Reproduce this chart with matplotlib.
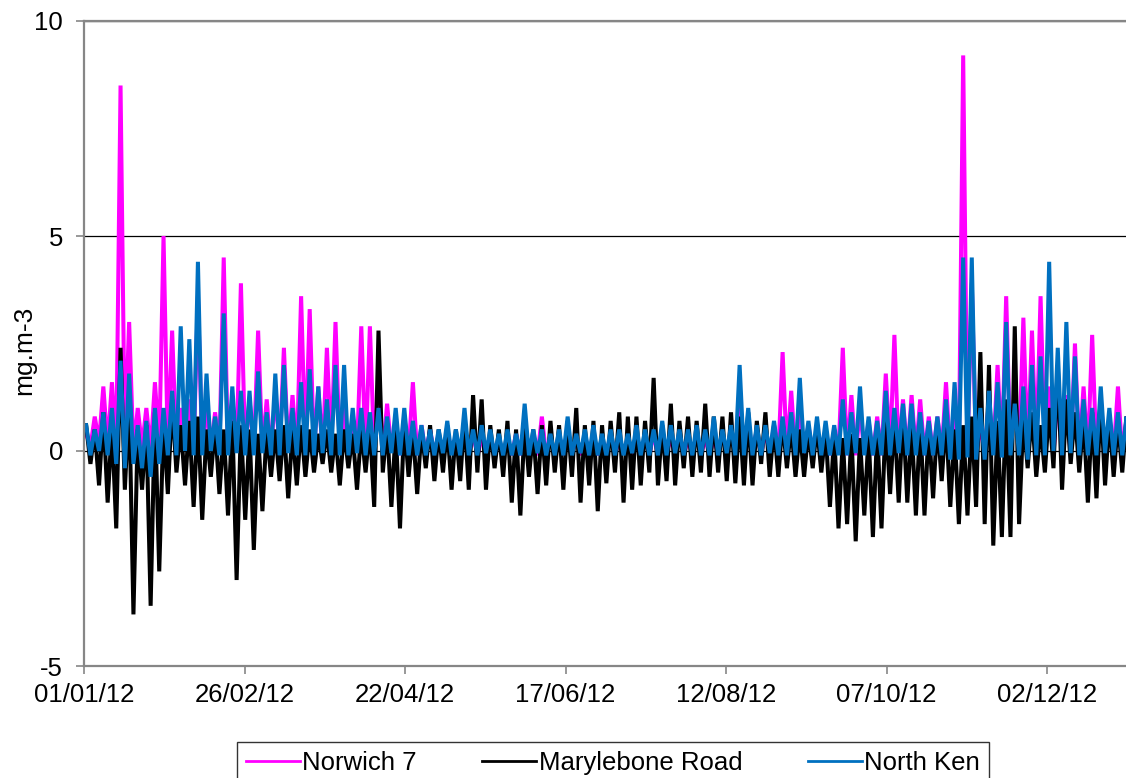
import numpy as np
import matplotlib
matplotlib.use("Agg")
import matplotlib.pyplot as plt

# 3-day bins through 2012 (122 bins): highest and lowest hourly value in each bin, mg.m-3
START = np.datetime64("2012-01-01T00", "h")
BIN_HOURS = 72

norwich_hi = [
    0.4, 0.8, 1.5, 1.6, 8.5, 3.0, 1.0, 1.0, 1.6, 5.0,
    2.8, 1.0, 1.2, 3.6, 1.0, 0.9, 4.5, 1.2, 3.9, 1.2,
    2.8, 1.2, 1.4, 2.4, 1.3, 3.6, 3.3, 1.5, 2.4, 3.0,
    1.0, 0.8, 2.9, 2.9, 1.5, 1.1, 0.7, 0.8, 1.6, 0.6,
    0.5, 0.4, 0.5, 0.3, 0.4, 0.4, 0.3, 0.4, 0.3, 0.3,
    0.4, 0.4, 0.3, 0.8, 0.3, 0.4, 0.3, 0.3, 0.4, 0.3,
    0.3, 0.4, 0.3, 0.3, 0.4, 0.3, 0.4, 0.3, 0.3, 0.4,
    0.3, 0.4, 0.3, 0.3, 0.4, 0.5, 1.0, 0.4, 0.5, 0.5,
    0.6, 2.3, 1.4, 1.1, 0.6, 0.5, 0.5, 0.5, 2.4, 1.3,
    1.0, 0.7, 0.8, 1.8, 2.7, 1.2, 1.3, 1.2, 0.8, 0.8,
    1.6, 1.0, 9.2, 3.9, 0.6, 1.2, 2.0, 3.6, 1.5, 3.1,
    2.8, 3.6, 1.5, 1.4, 1.3, 2.5, 1.5, 2.7, 1.2, 0.8,
    1.5, 0.8,
]
norwich_lo = [
    0.1, 0.2, 0.1, 0.0, 0.1, 0.0, 0.1, 0.0, 0.1, 0.0,
    0.0, 0.1, 0.0, 0.0, 0.1, 0.0, 0.0, 0.1, 0.0, 0.0,
    0.0, -0.05, 0.0, 0.0, -0.05, 0.0, 0.0, -0.05, 0.0, 0.0,
    -0.05, 0.0, -0.05, 0.0, -0.05, 0.0, -0.1, -0.05, -0.1, -0.1,
    -0.1, -0.1, -0.05, -0.1, -0.1, -0.1, -0.05, -0.1, -0.1, -0.1,
    -0.1, -0.05, -0.1, -0.1, -0.1, -0.1, -0.05, -0.1, -0.1, -0.1,
    -0.1, -0.1, -0.05, -0.1, -0.1, -0.1, -0.1, -0.05, -0.1, -0.1,
    -0.1, -0.1, -0.1, -0.05, -0.1, -0.1, -0.1, -0.05, -0.1, -0.1,
    -0.1, -0.05, -0.1, -0.1, -0.05, -0.1, -0.1, -0.05, -0.1, -0.1,
    -0.05, -0.1, -0.1, 0.0, -0.05, -0.1, -0.05, -0.1, -0.1, -0.05,
    -0.1, -0.05, 0.0, -0.05, -0.1, -0.05, -0.1, -0.05, 0.0, -0.1,
    -0.05, 0.0, -0.1, -0.05, -0.1, -0.05, -0.1, -0.05, -0.1, -0.05,
    -0.1, -0.05,
]

mary_hi = [
    0.6, 0.5, 0.9, 0.6, 2.4, 1.2, 0.5, 0.6, 0.9, 0.7,
    1.2, 0.6, 0.7, 0.8, 0.5, 0.6, 0.5, 0.7, 0.6, 0.5,
    0.4, 0.5, 0.5, 0.6, 0.5, 0.6, 0.5, 0.4, 0.5, 0.4,
    0.5, 0.4, 0.5, 0.6, 2.8, 0.6, 0.5, 0.7, 0.5, 0.5,
    0.6, 0.5, 0.6, 0.5, 0.8, 1.3, 1.2, 0.6, 0.5, 0.7,
    0.5, 0.6, 0.5, 0.6, 0.7, 0.6, 0.7, 1.0, 0.6, 0.7,
    0.6, 0.7, 0.9, 0.8, 0.8, 0.7, 1.7, 0.6, 1.1, 0.7,
    0.8, 0.7, 1.1, 0.8, 0.8, 0.9, 0.8, 0.9, 0.7, 0.9,
    0.6, 0.7, 0.6, 0.5, 0.5, 0.6, 0.5, 0.4, 0.3, 0.4,
    0.3, 0.4, 0.5, 0.8, 0.8, 0.9, 0.6, 0.7, 0.6, 0.7,
    0.8, 0.5, 0.6, 0.8, 2.3, 2.0, 0.7, 1.2, 2.9, 0.8,
    0.9, 0.6, 1.0, 2.0, 1.2, 0.9, 0.8, 0.9, 1.2, 0.8,
    0.7, 0.8,
]
mary_lo = [
    -0.3, -0.8, -1.2, -1.8, -0.9, -3.8, -0.9, -3.6, -2.8, -1.0,
    -0.5, -0.8, -1.3, -1.6, -0.6, -1.0, -1.5, -3.0, -1.6, -2.3,
    -1.4, -0.6, -0.7, -1.1, -0.8, -0.6, -0.5, -0.3, -0.5, -0.8,
    -0.4, -0.9, -0.5, -1.3, -0.5, -1.3, -1.8, -0.6, -1.0, -0.4,
    -0.7, -0.5, -0.9, -0.7, -0.9, -0.5, -0.9, -0.4, -0.6, -1.2,
    -1.5, -0.6, -1.0, -0.8, -0.5, -0.9, -0.6, -1.2, -0.8, -1.4,
    -0.75, -0.5, -1.2, -0.9, -0.8, -0.5, -0.8, -0.7, -0.8, -0.4,
    -0.6, -0.5, -0.6, -0.5, -0.7, -0.75, -0.8, -0.8, -0.3, -0.6,
    -0.6, -0.4, -0.6, -0.6, -0.4, -0.5, -1.3, -1.8, -1.7, -2.1,
    -1.5, -2.0, -1.8, -1.0, -1.2, -1.2, -1.5, -1.5, -1.1, -0.7,
    -1.3, -1.7, -1.5, -1.3, -1.7, -2.2, -2.0, -2.0, -1.7, -0.4,
    -0.6, -0.5, -0.4, -0.9, -0.3, -0.5, -1.2, -1.1, -0.8, -0.6,
    -0.5, -0.5,
]

nk_hi = [
    0.6, 0.5, 0.9, 1.0, 2.1, 1.8, 0.6, 0.7, 1.0, 1.0,
    1.4, 2.9, 2.6, 4.4, 1.8, 0.8, 3.2, 1.5, 1.4, 1.4,
    1.85, 0.9, 1.8, 2.0, 1.0, 1.6, 1.9, 1.5, 1.2, 2.0,
    2.0, 1.0, 1.0, 0.9, 1.0, 0.8, 1.0, 1.0, 0.7, 0.6,
    0.5, 0.5, 0.7, 0.5, 1.0, 0.5, 0.6, 0.5, 0.4, 0.5,
    0.4, 1.1, 0.5, 0.5, 0.4, 0.5, 0.8, 0.4, 0.5, 0.6,
    0.4, 0.5, 0.5, 0.4, 0.6, 0.5, 0.5, 0.7, 0.6, 0.5,
    0.5, 0.6, 0.5, 0.8, 0.5, 0.6, 2.0, 1.0, 0.6, 0.6,
    0.7, 0.8, 0.9, 1.7, 0.7, 0.8, 0.7, 0.6, 1.2, 0.9,
    1.5, 0.8, 0.7, 1.4, 1.0, 1.1, 1.1, 0.9, 0.7, 0.8,
    1.2, 1.6, 4.5, 4.5, 1.0, 1.4, 1.6, 3.0, 1.1, 1.5,
    2.0, 2.2, 4.4, 2.4, 3.0, 2.2, 1.2, 1.0, 1.5, 1.0,
    0.9, 0.8,
]
nk_lo = [
    -0.1, 0.0, -0.1, -0.3, -0.4, -0.3, -0.4, -0.6, -0.3, -0.1,
    -0.1, 0.0, -0.1, -0.1, 0.0, -0.1, -0.1, -0.05, -0.1, -0.1,
    -0.05, -0.1, -0.1, -0.05, -0.1, -0.1, -0.1, -0.05, -0.1, -0.1,
    -0.1, -0.05, -0.1, -0.1, -0.1, -0.05, -0.1, -0.1, -0.1, -0.1,
    -0.1, -0.05, -0.1, -0.1, -0.1, -0.1, -0.05, -0.1, -0.1, -0.1,
    -0.1, -0.1, -0.05, -0.1, -0.1, -0.1, -0.1, -0.05, -0.1, -0.1,
    -0.1, -0.1, -0.1, -0.05, -0.1, -0.1, -0.1, -0.1, -0.05, -0.1,
    -0.1, -0.1, -0.1, -0.1, -0.05, -0.1, -0.1, -0.1, -0.1, -0.05,
    -0.1, -0.1, -0.1, -0.05, -0.1, -0.1, -0.1, -0.1, -0.1, -0.05,
    -0.1, -0.1, -0.1, -0.1, -0.05, -0.1, -0.1, -0.1, -0.1, -0.1,
    -0.2, -0.2, -0.15, -0.2, -0.2, -0.1, -0.15, -0.1, -0.1, -0.2,
    -0.1, -0.1, 0.0, -0.1, -0.05, -0.1, -0.1, -0.1, -0.05, -0.1,
    -0.1, -0.1,
]

SERIES = [
    ("Norwich 7", norwich_hi, norwich_lo, "#FF00FF"),
    ("Marylebone Road", mary_hi, mary_lo, "#000000"),
    ("North Ken", nk_hi, nk_lo, "#0070C0"),
]
TICK_LABELS = ["01/01/12", "26/02/12", "22/04/12", "17/06/12",
               "12/08/12", "07/10/12", "02/12/12"]


def zigzag(hi, lo):
    # high value a quarter into each bin, low value three quarters in
    n = len(hi)
    k = np.arange(n)
    t = np.empty(2 * n, dtype="datetime64[h]")
    t[0::2] = START + (k * BIN_HOURS + 18).astype("timedelta64[h]")
    t[1::2] = START + (k * BIN_HOURS + 54).astype("timedelta64[h]")
    v = np.empty(2 * n)
    v[0::2] = hi
    v[1::2] = lo
    return t, v


plt.rcParams["font.family"] = ["Liberation Sans", "DejaVu Sans"]
plt.rcParams["axes.unicode_minus"] = False

W, H = 1126, 778
fig = plt.figure(figsize=(W / 100, H / 100), dpi=100)
ax = fig.add_axes([84 / W, 112 / H, 1049 / W, 645 / H])

for name, hi, lo, color in SERIES:
    t, v = zigzag(hi, lo)
    ax.plot(t, v, color=color, lw=2.9, label=name, solid_joinstyle="bevel")

ax.set_ylim(-5, 10)
ax.set_yticks([-5, 0, 5, 10])
ax.set_xlim(START, START + np.timedelta64(366 * 24, "h"))
ticks = [np.datetime64("2012-01-01") + np.timedelta64(56 * i, "D") for i in range(7)]
ax.set_xticks(ticks)
ax.set_xticklabels(TICK_LABELS)

ax.set_axisbelow(True)
ax.yaxis.grid(True, color="black", lw=0.9)
for side in ("left", "bottom", "top"):
    ax.spines[side].set_color("#868686")
    ax.spines[side].set_linewidth(1.6)
ax.spines["right"].set_visible(False)
ax.tick_params(axis="both", direction="out", length=6, width=1.2,
               color="#868686", labelsize=18.5)
ax.tick_params(axis="y", pad=9)
ax.tick_params(axis="x", pad=6)

ax.set_ylabel("mg.m-3", fontsize=19)
ax.yaxis.set_label_coords(-0.046, 0.49)

leg = fig.legend(loc="upper center", bbox_to_anchor=(613 / W, 1 - 742 / H),
                 borderaxespad=0, ncol=3, frameon=True, fancybox=False,
                 fontsize=18.5, handlelength=2.1, handletextpad=0.1,
                 columnspacing=2.55, borderpad=0.35)
leg.get_frame().set_edgecolor("black")
leg.get_frame().set_linewidth(1.0)
for line in leg.get_lines():
    line.set_linewidth(2.0)

fig.savefig("out.png", dpi=100)
